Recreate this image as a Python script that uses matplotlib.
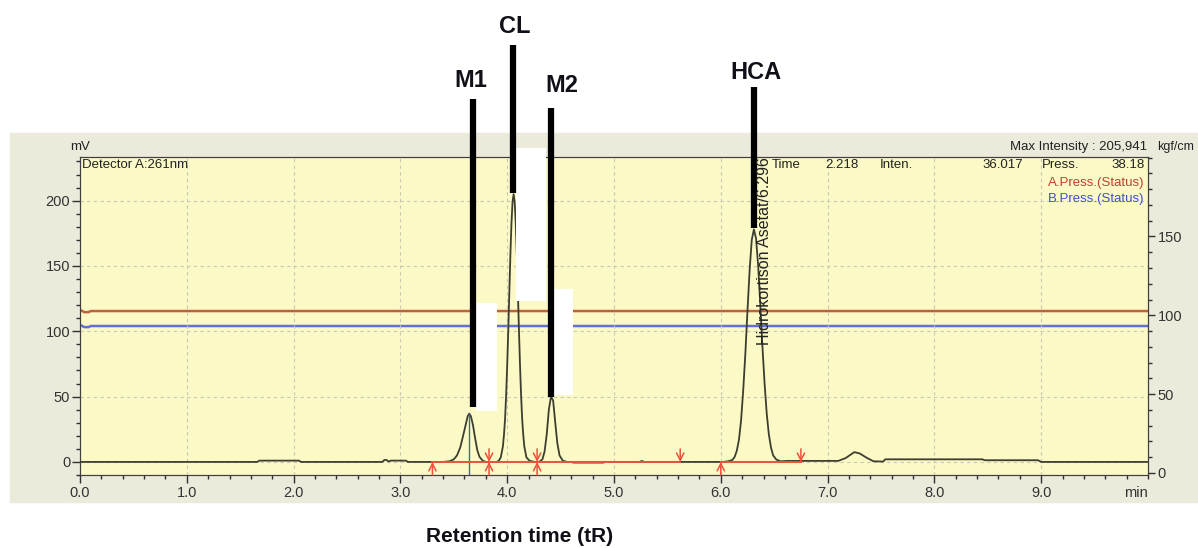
import matplotlib
matplotlib.use("Agg")
import matplotlib.pyplot as plt
from matplotlib.patches import Rectangle
from matplotlib.ticker import MultipleLocator

plt.rcParams['font.family'] = ['Liberation Sans', 'DejaVu Sans']

# ─ DATA ─
# detector signal (min, mV), read off piece by piece
t_base1 = [0.00, 1.66, 1.68, 2.05, 2.07, 2.83, 2.85, 2.87, 2.89, 2.91, 3.05, 3.07, 3.40]
mv_base1 = [0.0, 0.0, 1.0, 1.0, 0.0, 0.0, 1.5, 1.5, 0.3, 1.0, 1.0, 0.0, 0.0]

t_m1 = [3.46, 3.50, 3.53, 3.56, 3.59, 3.61, 3.63, 3.645, 3.66, 3.68, 3.70, 3.72, 3.74, 3.77, 3.80]
mv_m1 = [0.5, 2, 5, 11, 21, 28, 35, 37, 35, 28, 18, 9, 4, 1, 0]

t_cl = [3.90, 3.92, 3.94, 3.96, 3.97, 3.98, 3.99, 4.00, 4.01, 4.02, 4.03, 4.04, 4.05, 4.06,
        4.07, 4.08, 4.09, 4.10, 4.11, 4.12, 4.13, 4.14, 4.15, 4.16, 4.18, 4.21, 4.26]
mv_cl = [0, 0.8, 3.5, 12, 21, 33, 51, 74, 101, 130, 159, 183, 199, 205,
         199, 183, 159, 130, 101, 74, 51, 33, 21, 12, 3.5, 0.8, 0]

t_m2 = [4.30, 4.33, 4.35, 4.37, 4.39, 4.41, 4.43, 4.45, 4.47, 4.49, 4.52, 4.56]
mv_m2 = [0, 2, 8, 21, 40, 50, 47, 30, 14, 5, 1, 0]

t_base2 = [4.60, 4.62, 4.90, 4.92, 5.24, 5.26, 5.28, 6.02]
mv_base2 = [0, -0.5, -0.5, 0, 0, 0.8, 0, 0]

t_hca = [6.07, 6.11, 6.13, 6.15, 6.17, 6.19, 6.21, 6.23, 6.25, 6.27, 6.29, 6.31, 6.33, 6.35,
         6.37, 6.39, 6.41, 6.43, 6.45, 6.47, 6.49, 6.52, 6.56, 6.62]
mv_hca = [0.5, 1.6, 3.9, 8.6, 17, 32, 55, 83, 116, 147, 170, 178, 171, 150,
          120, 88, 60, 37, 21, 11, 5, 1.8, 0.5, 0.8]

t_tail = [7.10, 7.17, 7.25, 7.30, 7.37, 7.43, 7.52, 7.54, 8.45, 8.47, 8.97, 9.00, 10.0]
mv_tail = [0.8, 3, 7.5, 6.5, 3, 0.5, 0.3, 2, 2, 1.3, 1.3, 0, 0]

t_sig = t_base1 + t_m1 + t_cl + t_m2 + t_base2 + t_hca + t_tail
mv_sig = mv_base1 + mv_m1 + mv_cl + mv_m2 + mv_base2 + mv_hca + mv_tail

# pump pressure traces (right axis)
t_press = [0.0, 0.04, 0.08, 0.10, 10.0]
a_press = [103.5, 102.0, 102.0, 102.7, 102.7]
b_press = [94.0, 92.5, 92.5, 93.2, 93.2]

# integration baselines and markers
base_segs = [(3.30, 3.83), (3.83, 4.28), (4.28, 5.62), (6.00, 6.75)]
arrows_up = [3.30, 3.83, 4.28, 6.00]
arrows_down = [3.83, 4.28, 5.62, 6.75]

# peak labels: name, line x, line bottom, line top, label x, label y
peak_names = ["M1", "CL", "M2", "HCA"]
line_x = [3.68, 4.05, 4.41, 6.31]
line_y0 = [42, 206, 50, 179]
line_y1 = [278, 319, 271, 287]
label_x = [3.66, 4.07, 4.51, 6.33]
label_y = [292, 333, 288, 298]

# white masks over the chart (t0, t1, y0, y1)
masks = [(3.71, 3.90, 39, 122), (4.08, 4.36, 123, 240), (4.44, 4.62, 51, 132)]

YELLOW = "#FBF9C6"
PANEL = "#ECEADB"
TRACE = "#3E3E30"
RED_P = "#C0603C"
BLUE_P = "#6070D8"
RED_I = "#F0503C"

fig = plt.figure(figsize=(11.98, 5.48), dpi=100)
fig.patches.append(Rectangle((10 / 1198, 1 - 502 / 548), 1188 / 1198, 369 / 548,
                             transform=fig.transFigure, color=PANEL, zorder=-5))

ax = fig.add_axes([80 / 1198, 1 - 475 / 548, 1068 / 1198, 318 / 548])
ax2 = ax.twinx()
ax2.set_zorder(1)
ax.set_zorder(2)
ax.patch.set_visible(False)
ax2.patch.set_visible(True)
ax2.patch.set_facecolor(YELLOW)

ax.set_xlim(0, 10)
ax.set_ylim(-10, 233.4)
ax2.set_ylim(-1.3, 200.4)

# pressure lines
ax2.plot(t_press, a_press, color=RED_P, lw=1.8)
ax2.plot(t_press, b_press, color=BLUE_P, lw=1.8)

# grid
for gx in range(1, 10):
    ax.axvline(gx, color="#C8C8B4", lw=0.8, ls=(0, (3, 3)), zorder=1)
for gy in [0, 50, 100, 150, 200]:
    ax.axhline(gy, color="#C8C8B4", lw=0.8, ls=(0, (3, 3)), zorder=1)

# detector signal
ax.plot(t_sig, mv_sig, color=TRACE, lw=1.3, zorder=3)

# marker line at M1
ax.plot([3.64, 3.64], [-10, 37], color="#5060A0", lw=1.0, zorder=3)

# integration baselines
for a, b in base_segs:
    ax.plot([a, b], [0, 0], color=RED_I, lw=1.4, zorder=4)
for t in arrows_up:
    ax.annotate("", xy=(t, 0), xytext=(t, -10),
                arrowprops=dict(arrowstyle="->", color=RED_I, lw=1.1, mutation_scale=13,
                                shrinkA=0, shrinkB=0),
                zorder=4)
for t in arrows_down:
    ax.annotate("", xy=(t, 0), xytext=(t, 10),
                arrowprops=dict(arrowstyle="->", color=RED_I, lw=1.1, mutation_scale=13,
                                shrinkA=0, shrinkB=0),
                zorder=4)

# white masks
for t0, t1, y0, y1 in masks:
    ax.add_patch(Rectangle((t0, y0), t1 - t0, y1 - y0, facecolor="white",
                           edgecolor="none", zorder=5, clip_on=False))

# peak label lines and names
for name, lx, y0, y1, tx, ty in zip(peak_names, line_x, line_y0, line_y1, label_x, label_y):
    ax.plot([lx, lx], [y0, y1], color="black", lw=4.5, zorder=6, clip_on=False,
            solid_capstyle="butt")
    ax.text(tx, ty, name, ha="center", va="center", fontsize=17, fontweight="bold",
            color="#101018", zorder=7, clip_on=False)

# vertical peak name
ax.text(6.41, 89.5, "Hidrokortison Asetat/6.296", rotation=90, ha="center", va="bottom",
        fontsize=11.5, color="#222222", zorder=6)

# axes styling
for sp in ["left", "right", "top", "bottom"]:
    ax.spines[sp].set_color("#404040")
    ax2.spines[sp].set_color("#404040")

ax.set_xticks(range(0, 10))
ax.set_xticklabels([f"{i}.0" for i in range(10)])
ax.xaxis.set_minor_locator(MultipleLocator(0.2))
ax.set_yticks([0, 50, 100, 150, 200])
ax.yaxis.set_minor_locator(MultipleLocator(10))
ax2.set_yticks([0, 50, 100, 150])
ax2.yaxis.set_minor_locator(MultipleLocator(10))

ax.tick_params(axis="x", which="major", length=6, width=1, color="#303030",
               labelsize=10.5, labelcolor="#333333", pad=2)
ax.tick_params(axis="x", which="minor", length=3, width=1, color="#303030")
ax.tick_params(axis="y", which="major", length=6, width=1, color="#303030",
               labelsize=10.5, labelcolor="#333333", pad=1)
ax.tick_params(axis="y", which="minor", length=3, width=1, color="#303030")
ax2.tick_params(axis="y", which="major", length=5, width=1, color="#303030",
                labelsize=10.5, labelcolor="#333333", pad=2)
ax2.tick_params(axis="y", which="minor", length=3, width=1, color="#303030")

ax.text(1.0, -0.035, "min", transform=ax.transAxes, ha="right", va="top",
        fontsize=10.5, color="#333333")

# header texts
tk = dict(transform=ax.transAxes, fontsize=9.5, color="#222222")
ax.text(0.0, 1.03, "mV", ha="center", va="center", **tk)
ax.text(0.999, 1.031, "Max Intensity : 205,941", ha="right", va="center", **tk)
ax.text(1.0085, 1.031, "kgf/cm", ha="left", va="center", clip_on=False,
        transform=ax.transAxes, fontsize=9, color="#222222")
ax.text(0.002, 0.994, "Detector A:261nm", ha="left", va="top", **tk)
ax.text(0.648, 0.975, "Time", ha="left", va="center", **tk)
ax.text(0.698, 0.975, "2.218", ha="left", va="center", **tk)
ax.text(0.749, 0.975, "Inten.", ha="left", va="center", **tk)
ax.text(0.883, 0.975, "36.017", ha="right", va="center", **tk)
ax.text(0.901, 0.975, "Press.", ha="left", va="center", **tk)
ax.text(0.997, 0.975, "38.18", ha="right", va="center", **tk)
ax.text(0.997, 0.918, "A.Press.(Status)", ha="right", va="center",
        transform=ax.transAxes, fontsize=9.5, color="#C04030")
ax.text(0.997, 0.868, "B.Press.(Status)", ha="right", va="center",
        transform=ax.transAxes, fontsize=9.5, color="#4050D0")

fig.text(520 / 1198, 1 - 537 / 548, "Retention time (tR)", ha="center", va="center",
         fontsize=15, fontweight="bold", color="#101018")

fig.savefig("out.png", dpi=100)
